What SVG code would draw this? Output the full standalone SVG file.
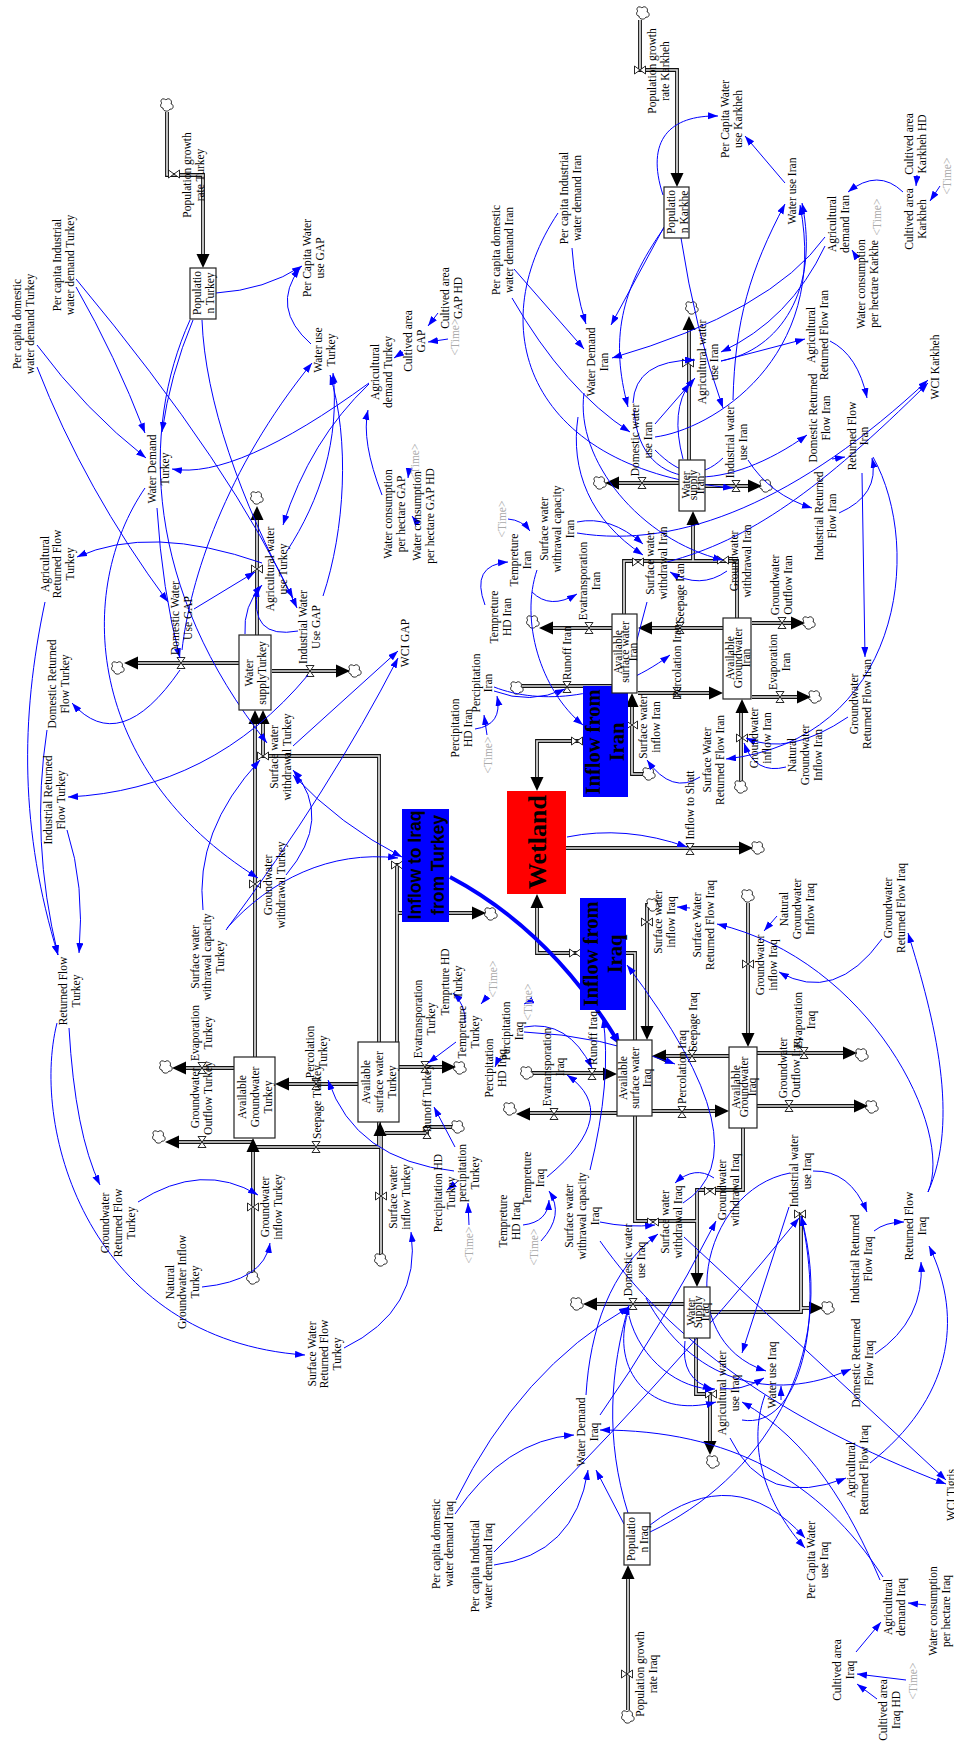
<svg xmlns="http://www.w3.org/2000/svg" width="954" height="1741" viewBox="0 0 954 1741">
<style>
text{font-family:"Liberation Serif","Times New Roman",serif;font-size:11.5px;text-anchor:middle;fill:#000}
.g{fill:#aaa}
.st{fill:#fff;stroke:#222;stroke-width:1.2}
.po{fill:none;stroke:#111;stroke-width:3.8}
.pi{fill:none;stroke:#ddd;stroke-width:1.7}
.c path{fill:none;stroke:#0000ff;stroke-width:1;marker-end:url(#b)}
path.n{marker-end:none!important}
path.dbl{marker-start:url(#bs)}
.cl{fill:#fff;stroke:#111;stroke-width:.9}
.v{fill:#fff;stroke:#111;stroke-width:.9}
.bx{font-family:"Liberation Sans",Arial,sans-serif;font-weight:bold;font-size:17.5px}
.bs{font-weight:bold;font-size:20.5px}
</style>
<defs>
<marker id="b" markerUnits="userSpaceOnUse" markerWidth="11" markerHeight="8" refX="10" refY="3.5" orient="auto"><path d="M0 0L10 3.5L0 7Z" fill="#0000ff"/></marker>
<marker id="bs" markerUnits="userSpaceOnUse" markerWidth="11" markerHeight="8" refX="10" refY="3.5" orient="auto-start-reverse"><path d="M0 0L10 3.5L0 7Z" fill="#0000ff"/></marker>
<marker id="B" markerUnits="userSpaceOnUse" markerWidth="15" markerHeight="12" refX="6" refY="5" orient="auto"><path d="M0 0L12 5L0 10Z" fill="#0000ff"/></marker>
<path id="hd" d="M0 0L-14 -6.5L-14 6.5Z" fill="#000"/>
<path id="cl" class="cl" d="M-3-6C-6-7-7-3-5-2C-7-1-7 3-4 3C-4 7 2 7 3 4C7 5 7-1 4-1C6-5 1-8-1-5C-2-6-3-6-3-6Z"/>
<path id="vh" class="v" d="M-4-5.5H4L-4 5.5H4Z"/>
<path id="vv" class="v" d="M-5.5-4V4L5.5-4V4Z"/>
<g id="pipes">
<path d="M167 112V175H203V258"/><path d="M257 635V515"/><path d="M239 663H130"/><path d="M272 671H345"/><path d="M263 720V756H379V1042"/><path d="M255 720V1057"/><path d="M234 1068H180"/><path d="M253 1142H172"/><path d="M358 1084H285"/><path d="M379 1122V1147H253"/><path d="M253 1278V1145"/><path d="M381 1260V1130"/><path d="M452 1127H427V1133H385"/><path d="M399 1067H447"/><path d="M397 1042V865H402"/><path d="M397 913H475"/>
<path d="M566 848H745"/><path d="M583 741H537V780"/><path d="M580 953H537V905"/><path d="M626 953H635V1040"/>
<path d="M640 20V70H677V175"/><path d="M689 460V325"/><path d="M679 483H615"/><path d="M705 486H750"/><path d="M693 524V561"/><path d="M624 614V561H737V618"/><path d="M612 628H550"/><path d="M522 686H612"/><path d="M723 628H650"/><path d="M638 693H712"/><path d="M752 623H795"/><path d="M752 697H800"/><path d="M741 781V710"/><path d="M649 774H632V705"/>
<path d="M648 905H647V1028"/><path d="M748 903V1035"/><path d="M729 1056H665"/><path d="M652 1111H718"/><path d="M532 1073H605"/><path d="M617 1113H528"/><path d="M757 1053H845"/><path d="M757 1106H855"/><path d="M635 1116V1221H697"/><path d="M743 1128V1190H697V1275"/><path d="M684 1304H595"/><path d="M709 1312H801V1212"/><path d="M801 1308H810"/><path d="M696 1338V1394H710V1443"/><path d="M628 1710V1575"/>
</g>
</defs>
<rect width="954" height="1741" fill="#fff"/>
<g id="flows">
<use href="#pipes" class="po"/><use href="#pipes" class="pi"/>
<g id="clouds">
<use href="#cl" x="167" y="105"/><use href="#cl" x="257" y="498"/><use href="#cl" x="118" y="668"/><use href="#cl" x="355" y="671"/><use href="#cl" x="166" y="1067"/><use href="#cl" x="159" y="1137"/><use href="#cl" x="253" y="1278"/><use href="#cl" x="381" y="1260"/><use href="#cl" x="458" y="1127"/><use href="#cl" x="460" y="1068"/><use href="#cl" x="491" y="914"/><use href="#cl" x="758" y="848"/><use href="#cl" x="643" y="13"/><use href="#cl" x="692" y="308"/><use href="#cl" x="600" y="483"/><use href="#cl" x="766" y="486"/><use href="#cl" x="533" y="622"/><use href="#cl" x="517" y="688"/><use href="#cl" x="809" y="623"/><use href="#cl" x="815" y="697"/><use href="#cl" x="741" y="787"/><use href="#cl" x="649" y="774"/><use href="#cl" x="653" y="905"/><use href="#cl" x="748" y="896"/><use href="#cl" x="527" y="1073"/><use href="#cl" x="510" y="1109"/><use href="#cl" x="862" y="1055"/><use href="#cl" x="872" y="1107"/><use href="#cl" x="577" y="1304"/><use href="#cl" x="828" y="1308"/><use href="#cl" x="713" y="1462"/><use href="#cl" x="628" y="1717"/>
</g>
<g id="heads">
<use href="#hd" transform="translate(203 268) rotate(90)"/><use href="#hd" transform="translate(257 506) rotate(-90)"/><use href="#hd" transform="translate(124 663) rotate(180)"/><use href="#hd" transform="translate(350 671)"/><use href="#hd" transform="translate(263 710) rotate(-90)"/><use href="#hd" transform="translate(255 710) rotate(-90)"/><use href="#hd" transform="translate(172 1068) rotate(180)"/><use href="#hd" transform="translate(165 1142) rotate(180)"/><use href="#hd" transform="translate(275 1084) rotate(180)"/><use href="#hd" transform="translate(253 1138) rotate(-90)"/><use href="#hd" transform="translate(380 1122) rotate(-90)"/><use href="#hd" transform="translate(456 1067)"/><use href="#hd" transform="translate(486 913)"/>
<use href="#hd" transform="translate(753 848)"/><use href="#hd" transform="translate(537 791) rotate(90)"/><use href="#hd" transform="translate(537 894) rotate(-90)"/>
<use href="#hd" transform="translate(677 187) rotate(90)"/><use href="#hd" transform="translate(689 316) rotate(-90)"/><use href="#hd" transform="translate(605 483) rotate(180)"/><use href="#hd" transform="translate(762 486)"/><use href="#hd" transform="translate(693 511) rotate(-90)"/><use href="#hd" transform="translate(539 628) rotate(180)"/><use href="#hd" transform="translate(638 628) rotate(180)"/><use href="#hd" transform="translate(723 693)"/><use href="#hd" transform="translate(805 623)"/><use href="#hd" transform="translate(811 697)"/><use href="#hd" transform="translate(742 699) rotate(-90)"/><use href="#hd" transform="translate(632 693) rotate(-90)"/>
<use href="#hd" transform="translate(647 1040) rotate(90)"/><use href="#hd" transform="translate(748 1047) rotate(90)"/><use href="#hd" transform="translate(652 1056) rotate(180)"/><use href="#hd" transform="translate(729 1111)"/><use href="#hd" transform="translate(617 1074)"/><use href="#hd" transform="translate(516 1114) rotate(180)"/><use href="#hd" transform="translate(857 1053)"/><use href="#hd" transform="translate(868 1106)"/><use href="#hd" transform="translate(697 1287) rotate(90)"/><use href="#hd" transform="translate(583 1304) rotate(180)"/><use href="#hd" transform="translate(823 1308)"/><use href="#hd" transform="translate(710 1455) rotate(90)"/><use href="#hd" transform="translate(628 1565) rotate(-90)"/>
</g>
<g id="valves">
<use href="#vv" x="174" y="174"/><use href="#vv" x="257" y="569"/><use href="#vv" x="263" y="756"/><use href="#vv" x="255" y="884"/><use href="#vv" x="253" y="1207"/><use href="#vv" x="381" y="1196"/><use href="#vv" x="397" y="865"/><use href="#vv" x="640" y="70"/><use href="#vv" x="688" y="363"/><use href="#vv" x="638" y="562"/><use href="#vv" x="723" y="560"/><use href="#vv" x="632" y="725"/><use href="#vv" x="742" y="738"/><use href="#vv" x="647" y="922"/><use href="#vv" x="748" y="964"/><use href="#vv" x="653" y="1222"/><use href="#vv" x="710" y="1191"/><use href="#vv" x="800" y="1214"/><use href="#vv" x="711" y="1394"/><use href="#vv" x="627" y="1674"/><use href="#vv" x="577" y="741"/><use href="#vv" x="575" y="953"/>
<use href="#vh" x="181" y="663"/><use href="#vh" x="310" y="671"/><use href="#vh" x="202" y="1068"/><use href="#vh" x="202" y="1142"/><use href="#vh" x="316" y="1084"/><use href="#vh" x="316" y="1147"/><use href="#vh" x="427" y="1133"/><use href="#vh" x="425" y="1067"/><use href="#vh" x="690" y="849"/><use href="#vh" x="642" y="483"/><use href="#vh" x="736" y="486"/><use href="#vh" x="589" y="628"/><use href="#vh" x="567" y="687"/><use href="#vh" x="680" y="628"/><use href="#vh" x="677" y="693"/><use href="#vh" x="782" y="623"/><use href="#vh" x="780" y="697"/><use href="#vh" x="692" y="1056"/><use href="#vh" x="682" y="1112"/><use href="#vh" x="592" y="1074"/><use href="#vh" x="554" y="1114"/><use href="#vh" x="804" y="1053"/><use href="#vh" x="789" y="1106"/><use href="#vh" x="633" y="1304"/>
</g>
</g>
<g id="connectors" class="c">
<path d="M216 293Q265 290 302 266"/><path d="M311 344Q270 308 300 268"/><path d="M438 313L428 326"/><path d="M448 339L428 342"/><path d="M403 352L394 358"/><path d="M76 287Q115 355 145 433"/><path d="M76 279Q235 470 297 608"/><path d="M202 320C205 400 240 500 293 598"/><path d="M37 345Q85 410 146 458"/><path d="M37 367Q85 490 168 602"/><path d="M193 320Q170 375 162 432"/><path d="M190 320C140 430 145 590 267 743"/><path d="M157 508Q162 590 180 658"/><path d="M145 488C75 590 85 770 258 878"/><path d="M194 609L255 572"/><path d="M182 650C190 580 225 470 312 363"/><path d="M245 634Q243 606 262 585"/><path d="M298 631Q248 640 258 587"/><path d="M287 551C320 500 340 440 333 373"/><path d="M323 596C345 530 350 440 330 375"/><path d="M369 383Q236 480 172 469"/><path d="M369 384Q310 440 283 525"/><path d="M382 495Q361 441 368 410"/><path d="M409 470L408 478"/><path d="M418 524L412 516"/><path d="M262 563Q150 524 77 557"/><path d="M180 670Q120 757 72 703"/><path d="M308 675Q212 790 68 797"/><path d="M45 602C20 720 20 830 58 955"/><path d="M47 730Q30 840 58 955"/><path d="M67 830Q85 885 79 953"/><path d="M293 746L398 651"/><path d="M226 930Q330 790 398 658"/><path d="M286 875Q334 818 293 770"/><path d="M203 910Q194 831 260 760"/><path d="M227 928C270 880 330 850 398 858"/><path class="dbl" d="M402 857Q340 825 293 775"/><path d="M69 1028Q75 1133 100 1185"/><path d="M57 1023C30 1130 90 1340 305 1355"/><path d="M344 1348Q422 1310 411 1232"/><path d="M138 1202Q202 1161 258 1195"/><path d="M202 1287Q264 1281 270 1243"/><path d="M454 1171Q355 1160 328 1080"/><path d="M455 1147L434 1107"/><path d="M457 1182L447 1190"/><path d="M469 1225L468 1203"/><path d="M456 1042L428 1063"/><path d="M465 1023Q466 1005 453 993"/>
<path d="M663 195C645 140 670 115 718 116"/><path d="M785 183L745 136"/><path d="M917 175L916 186"/><path d="M940 186L930 201"/><path d="M903 192Q878 168 848 192"/><path d="M857 258L852 250"/><path d="M572 248Q575 290 586 324"/><path d="M514 269L584 349"/><path d="M512 298Q565 390 630 432"/><path d="M558 213C480 330 530 470 733 488"/><path d="M664 227L611 325"/><path d="M664 228C620 290 610 340 628 407"/><path d="M681 238Q695 330 723 408"/><path d="M825 237Q771 312 612 358"/><path d="M825 246Q790 320 721 352"/><path d="M721 361L805 339"/><path d="M721 361C780 350 820 290 802 203"/><path d="M655 437C710 430 830 360 800 205"/><path d="M733 400C735 320 750 270 785 204"/><path d="M655 424L695 378"/><path d="M633 403Q635 360 695 360"/><path d="M683 459Q670 410 690 383"/><path d="M634 410C640 500 730 490 807 435"/><path class="n" d="M655 450C680 475 700 480 723 458"/><path d="M748 460Q770 495 812 508"/><path d="M832 459L845 457"/><path d="M839 513Q880 495 872 458"/><path d="M830 341Q858 355 867 398"/><path d="M862 473L865 657"/><path d="M873 457C925 550 900 740 726 759"/><path d="M848 717Q789 757 746 738"/><path d="M786 767Q755 775 744 743"/><path d="M700 777Q672 795 647 760"/><path d="M577 533C680 550 800 500 928 380"/><path d="M667 562C750 540 820 490 928 383"/><path d="M577 522Q610 515 643 544"/><path d="M727 571Q700 590 670 572"/><path d="M647 602L625 685"/><path d="M485 605Q470 565 508 562"/><path d="M508 519Q522 520 530 531"/><path d="M532 592Q550 610 577 594"/><path d="M537 570C520 620 540 690 583 725"/><path d="M494 691Q530 705 565 689"/><path d="M494 687C540 705 610 700 670 655"/><path d="M475 729Q503 725 497 696"/><path d="M487 735L484 715"/><path d="M584 393C575 460 640 540 723 560"/><path d="M578 417C570 470 590 520 643 555"/>
<path d="M567 837Q625 825 687 847"/><path d="M777 916L764 931"/><path d="M690 908L677 907"/><path d="M882 939Q835 1004 779 972"/><path d="M928 1192C955 1130 870 960 717 924"/><path d="M928 1192C960 1120 935 1020 908 933"/><path d="M547 1177Q623 1114 567 1075"/><path d="M683 1203Q767 1150 627 965"/><path d="M714 1178Q695 1165 675 1183"/><path d="M487 997L481 1004"/><path d="M533 1000L524 1004"/><path d="M524 1027Q568 1019 592 1068"/><path d="M524 1032Q600 1035 675 1064"/><path d="M498 1060L495 1067"/><path d="M813 1171Q850 1170 867 1212"/><path d="M874 1231Q885 1222 904 1222"/><path d="M875 1354Q925 1320 921 1262"/><path d="M870 1463C950 1400 965 1320 929 1246"/><path d="M646 1298C690 1380 770 1405 851 1369"/><path d="M730 1438Q765 1510 846 1478"/><path d="M765 1395C745 1450 770 1510 805 1548"/><path d="M650 1525Q735 1460 805 1538"/><path d="M650 1532C760 1480 840 1360 801 1216"/><path d="M624 1524L596 1470"/><path d="M628 1513C605 1440 610 1370 629 1305"/><path d="M456 1500Q520 1370 629 1307"/><path d="M455 1514Q505 1440 574 1435"/><path d="M494 1565Q575 1555 588 1470"/><path d="M494 1552Q650 1400 799 1218"/><path d="M586 1395C590 1330 610 1270 658 1234"/><path d="M600 1415Q660 1330 716 1221"/><path d="M628 1312C610 1370 650 1420 716 1402"/><path d="M629 1316C640 1360 680 1390 715 1389"/><path d="M685 1341Q680 1380 713 1389"/><path d="M720 1388Q740 1392 764 1378"/><path d="M790 1173C700 1190 670 1340 766 1371"/><path d="M789 1207L742 1353"/><path d="M742 1420C800 1430 825 1320 801 1216"/><path d="M880 1580C850 1510 810 1440 742 1402"/><path d="M883 1577C820 1480 730 1430 600 1430"/><path d="M781 1400L781 1386"/><path d="M856 1652L881 1622"/><path d="M906 1680L857 1674"/><path d="M877 1699L857 1684"/><path d="M926 1605L908 1603"/><path d="M600 1222Q628 1228 655 1225"/><path d="M600 1241C670 1340 780 1420 946 1484"/><path d="M684 1237L946 1480"/><path d="M523 1225Q548 1222 549 1200"/><path d="M541 1241Q565 1215 549 1191"/>
<path d="M450 877Q550 930 617 1040" style="stroke-width:4;marker-end:url(#B)"/>
</g>
<g id="stocks">
<g id="population-turkey"><rect class="st" x="190" y="268" width="26" height="51"/><text transform="translate(200.5 293) rotate(-90)"><tspan x="0">Populatio</tspan><tspan x="0" dy="13.3">n Turkey</tspan></text></g>
<g id="water-supply-turkey"><rect class="st" x="239" y="635" width="32" height="75"/><text transform="translate(252.5 673) rotate(-90)"><tspan x="0">Water</tspan><tspan x="0" dy="13.3">supplyTurkey</tspan></text></g>
<g id="available-groundwater-turkey"><rect class="st" x="234" y="1057" width="41" height="81"/><text transform="translate(245.5 1097) rotate(-90)"><tspan x="0">Available</tspan><tspan x="0" dy="13">Groundwater</tspan><tspan x="0" dy="13">Turkey</tspan></text></g>
<g id="available-surface-turkey"><rect class="st" x="358" y="1042" width="41" height="80"/><text transform="translate(369.5 1082) rotate(-90)"><tspan x="0">Available</tspan><tspan x="0" dy="13">surface water</tspan><tspan x="0" dy="13">Turkey</tspan></text></g>
<g id="inflow-to-iraq"><rect x="402" y="809" width="47" height="113" fill="#0000ff"/><text class="bx" transform="translate(421 865) rotate(-90)"><tspan x="0">Inflow to Iraq</tspan><tspan x="0" dy="23">from Turkey</tspan></text></g>
<g id="wetland"><rect x="507" y="791" width="59" height="103" fill="#ff0000"/><text transform="translate(546 842) rotate(-90)" style="font-weight:bold;font-size:26px">Wetland</text></g>
<g id="inflow-from-iran"><rect x="583" y="686" width="45" height="111" fill="#0000ff"/><text class="bs" transform="translate(600 742) rotate(-90)"><tspan x="0">Inflow from</tspan><tspan x="0" dy="24">Iran</tspan></text></g>
<g id="inflow-from-iraq"><rect x="580" y="898" width="46" height="112" fill="#0000ff"/><text class="bs" transform="translate(598 954) rotate(-90)"><tspan x="0">Inflow from</tspan><tspan x="0" dy="24">Iraq</tspan></text></g>
<g id="population-karkhe"><rect class="st" x="664" y="187" width="25" height="51"/><text transform="translate(674.5 212) rotate(-90)"><tspan x="0">Populatio</tspan><tspan x="0" dy="13.3">n Karkhe</tspan></text></g>
<g id="water-supply-iran"><rect class="st" x="679" y="460" width="26" height="51"/><text transform="translate(689.5 485) rotate(-90)"><tspan x="0">Water</tspan><tspan x="0" dy="7">supply</tspan><tspan x="0" dy="7">Iran</tspan></text></g>
<g id="available-surface-iran"><rect class="st" x="612" y="614" width="25" height="79"/><text transform="translate(621.5 652) rotate(-90)"><tspan x="0">Available</tspan><tspan x="0" dy="7.5">surface water</tspan><tspan x="0" dy="7.5">Iran</tspan></text></g>
<g id="available-groundwater-iran"><rect class="st" x="723" y="618" width="28" height="81"/><text transform="translate(733.5 658) rotate(-90)"><tspan x="0">Available</tspan><tspan x="0" dy="8">Groundwater</tspan><tspan x="0" dy="8">Iran</tspan></text></g>
<g id="available-surface-iraq"><rect class="st" x="617" y="1040" width="35" height="76"/><text transform="translate(626.5 1078) rotate(-90)"><tspan x="0">Available</tspan><tspan x="0" dy="12">surface water</tspan><tspan x="0" dy="12">Iraq</tspan></text></g>
<g id="available-groundwater-iraq"><rect class="st" x="729" y="1047" width="28" height="81"/><text transform="translate(739.5 1087) rotate(-90)"><tspan x="0">Available</tspan><tspan x="0" dy="8">Groundwater</tspan><tspan x="0" dy="8">Iraq</tspan></text></g>
<g id="water-supply-iraq"><rect class="st" x="684" y="1287" width="26" height="51"/><text transform="translate(694.5 1312) rotate(-90)"><tspan x="0">Water</tspan><tspan x="0" dy="7">Supply</tspan><tspan x="0" dy="7">Iraq</tspan></text></g>
<g id="population-iraq"><rect class="st" x="624" y="1513" width="26" height="52"/><text transform="translate(634.5 1539) rotate(-90)"><tspan x="0">Populatio</tspan><tspan x="0" dy="13.3">n Iraq</tspan></text></g>
</g>
<g id="connectors-over" class="c"><path d="M590 1170Q612 1080 603 1018"/></g>
<g id="variables">
<text transform="translate(190.5 175) rotate(-90)"><tspan x="0">Population growth</tspan><tspan x="0" dy="13.3">rate Turkey</tspan></text>
<text transform="translate(60.5 265) rotate(-90)"><tspan x="0">Per capita Industrial</tspan><tspan x="0" dy="13.3">water demand Turkey</tspan></text>
<text transform="translate(20.5 324) rotate(-90)"><tspan x="0">Per capita domestic</tspan><tspan x="0" dy="13.3">water demand Turkey</tspan></text>
<text transform="translate(310.5 258) rotate(-90)"><tspan x="0">Per Capita Water</tspan><tspan x="0" dy="13.3">use GAP</tspan></text>
<text transform="translate(321.5 350) rotate(-90)"><tspan x="0">Water use</tspan><tspan x="0" dy="13.3">Turkey</tspan></text>
<text transform="translate(411.5 341) rotate(-90)"><tspan x="0">Cultived area</tspan><tspan x="0" dy="13.3">GAP</tspan></text>
<text transform="translate(448.5 298) rotate(-90)"><tspan x="0">Cultived area</tspan><tspan x="0" dy="13.3">GAP HD</tspan></text>
<text class="g" transform="translate(458.5 337) rotate(-90)">&lt;Time&gt;</text>
<text transform="translate(378.5 372) rotate(-90)"><tspan x="0">Agricultural</tspan><tspan x="0" dy="13.3">demand Turkey</tspan></text>
<text transform="translate(155.5 469) rotate(-90)"><tspan x="0">Water Demand</tspan><tspan x="0" dy="13.3">Turkey</tspan></text>
<text transform="translate(391.5 514) rotate(-90)"><tspan x="0">Water consumption</tspan><tspan x="0" dy="13.3">per hectare GAP</tspan></text>
<text transform="translate(420.5 516) rotate(-90)"><tspan x="0">Water consumption</tspan><tspan x="0" dy="13.3">per hectare GAP HD</tspan></text>
<text class="g" transform="translate(418.5 462) rotate(-90)">&lt;Time&gt;</text>
<text transform="translate(273.5 569) rotate(-90)"><tspan x="0">Agricultural water</tspan><tspan x="0" dy="13.3">use Turkey</tspan></text>
<text transform="translate(306.5 627) rotate(-90)"><tspan x="0">Industrial Water</tspan><tspan x="0" dy="13.3">Use GAP</tspan></text>
<text transform="translate(178.5 618) rotate(-90)"><tspan x="0">Domestic Water</tspan><tspan x="0" dy="13.3">Use GAP</tspan></text>
<text transform="translate(48.5 564) rotate(-90)"><tspan x="0">Agricultural</tspan><tspan x="0" dy="12.5">Returned Flow</tspan><tspan x="0" dy="12.5">Turkey</tspan></text>
<text transform="translate(55.5 684) rotate(-90)"><tspan x="0">Domestic Returned</tspan><tspan x="0" dy="13.3">Flow Turkey</tspan></text>
<text transform="translate(51.5 800) rotate(-90)"><tspan x="0">Industrial Returned</tspan><tspan x="0" dy="13.3">Flow Turkey</tspan></text>
<text transform="translate(277.5 757) rotate(-90)"><tspan x="0">Surface water</tspan><tspan x="0" dy="13.3">withdrawal Turkey</tspan></text>
<text transform="translate(408.5 643) rotate(-90)">WCI GAP</text>
<text transform="translate(271.5 885) rotate(-90)"><tspan x="0">Groundwater</tspan><tspan x="0" dy="13.3">withdrawal Turkey</tspan></text>
<text transform="translate(198.5 957) rotate(-90)"><tspan x="0">Surface water</tspan><tspan x="0" dy="12.5">withrawal capacity</tspan><tspan x="0" dy="12.5">Turkey</tspan></text>
<text transform="translate(198.5 1033) rotate(-90)"><tspan x="0">Evaporation</tspan><tspan x="0" dy="13.3">Turkey</tspan></text>
<text transform="translate(198.5 1098) rotate(-90)"><tspan x="0">Groundwater</tspan><tspan x="0" dy="13.3">Outflow Turkey</tspan></text>
<text transform="translate(313.5 1052) rotate(-90)"><tspan x="0">Percolation</tspan><tspan x="0" dy="13.3">Turkey</tspan></text>
<text transform="translate(320.5 1102) rotate(-90)">Seepage Turkey</text>
<text transform="translate(421.5 1019) rotate(-90)"><tspan x="0">Evatransporation</tspan><tspan x="0" dy="13.3">Turkey</tspan></text>
<text transform="translate(448.5 982) rotate(-90)"><tspan x="0">Temprture HD</tspan><tspan x="0" dy="13.3">Turkey</tspan></text>
<text transform="translate(465.5 1032) rotate(-90)"><tspan x="0">Tempreture</tspan><tspan x="0" dy="13.3">Turkey</tspan></text>
<text transform="translate(430.5 1098) rotate(-90)">Runoff Turkey</text>
<text transform="translate(465.5 1173) rotate(-90)"><tspan x="0">percipitation</tspan><tspan x="0" dy="13.3">Turkey</tspan></text>
<text transform="translate(441.5 1193) rotate(-90)"><tspan x="0">Percipitation HD</tspan><tspan x="0" dy="13.3">Turkey</tspan></text>
<text class="g" transform="translate(472.5 1245) rotate(-90)">&lt;Time&gt;</text>
<text transform="translate(396.5 1197) rotate(-90)"><tspan x="0">Surface water</tspan><tspan x="0" dy="13.3">inflow Turkey</tspan></text>
<text transform="translate(268.5 1207) rotate(-90)"><tspan x="0">Groundwater</tspan><tspan x="0" dy="13.3">inflow Turkey</tspan></text>
<text transform="translate(108.5 1223) rotate(-90)"><tspan x="0">Groundwater</tspan><tspan x="0" dy="13">Returned Flow</tspan><tspan x="0" dy="13">Turkey</tspan></text>
<text transform="translate(173.5 1282) rotate(-90)"><tspan x="0">Natural</tspan><tspan x="0" dy="12.7">Groundwater Inflow</tspan><tspan x="0" dy="12.7">Turkey</tspan></text>
<text transform="translate(66.5 991) rotate(-90)"><tspan x="0">Returned Flow</tspan><tspan x="0" dy="13.3">Turkey</tspan></text>
<text transform="translate(315.5 1354) rotate(-90)"><tspan x="0">Surface Water</tspan><tspan x="0" dy="12.7">Returned Flow</tspan><tspan x="0" dy="12.7">Turkey</tspan></text>

<text transform="translate(655.5 71) rotate(-90)"><tspan x="0">Population growth</tspan><tspan x="0" dy="13.3">rate Karkheh</tspan></text>
<text transform="translate(728.5 119) rotate(-90)"><tspan x="0">Per Capita Water</tspan><tspan x="0" dy="13.3">use Karkheh</tspan></text>
<text transform="translate(567.5 198) rotate(-90)"><tspan x="0">Per capita Industrial</tspan><tspan x="0" dy="13.3">water demand Iran</tspan></text>
<text transform="translate(499.5 250) rotate(-90)"><tspan x="0">Per capita domestic</tspan><tspan x="0" dy="13.3">water demand Iran</tspan></text>
<text transform="translate(594.5 362) rotate(-90)"><tspan x="0">Water Demand</tspan><tspan x="0" dy="13.3">Iran</tspan></text>
<text transform="translate(795.5 191) rotate(-90)">Water use Iran</text>
<text transform="translate(835.5 224) rotate(-90)"><tspan x="0">Agricultural</tspan><tspan x="0" dy="13">demand Iran</tspan></text>
<text class="g" transform="translate(880.5 217) rotate(-90)">&lt;Time&gt;</text>
<text transform="translate(864.5 284) rotate(-90)"><tspan x="0">Water consumption</tspan><tspan x="0" dy="13.3">per hectare Karkhe</tspan></text>
<text transform="translate(912.5 144) rotate(-90)"><tspan x="0">Cultived area</tspan><tspan x="0" dy="13">Karkheh HD</tspan></text>
<text transform="translate(912.5 219) rotate(-90)"><tspan x="0">Cultived area</tspan><tspan x="0" dy="13">Karkheh</tspan></text>
<text class="g" transform="translate(950.5 176) rotate(-90)">&lt;Time&gt;</text>
<text transform="translate(938.5 367) rotate(-90)">WCI Karkheh</text>
<text transform="translate(814.5 335) rotate(-90)"><tspan x="0">Agricultural</tspan><tspan x="0" dy="13">Returned Flow Iran</tspan></text>
<text transform="translate(705.5 362) rotate(-90)"><tspan x="0">Agricultural water</tspan><tspan x="0" dy="12.5">use Iran</tspan></text>
<text transform="translate(638.5 440) rotate(-90)"><tspan x="0">Domestic water</tspan><tspan x="0" dy="13">use Iran</tspan></text>
<text transform="translate(733.5 442) rotate(-90)"><tspan x="0">Industrial water</tspan><tspan x="0" dy="13">use Iran</tspan></text>
<text transform="translate(816.5 418) rotate(-90)"><tspan x="0">Domestic Returned</tspan><tspan x="0" dy="13">Flow Iran</tspan></text>
<text transform="translate(855.5 436) rotate(-90)"><tspan x="0">Returned Flow</tspan><tspan x="0" dy="12.5">Iran</tspan></text>
<text transform="translate(822.5 516) rotate(-90)"><tspan x="0">Industrial Returned</tspan><tspan x="0" dy="13.3">Flow Iran</tspan></text>
<text transform="translate(547.5 529) rotate(-90)"><tspan x="0">Surface water</tspan><tspan x="0" dy="13">withrawal capacity</tspan><tspan x="0" dy="13">Iran</tspan></text>
<text transform="translate(517.5 560) rotate(-90)"><tspan x="0">Tempreture</tspan><tspan x="0" dy="13">Iran</tspan></text>
<text transform="translate(586.5 581) rotate(-90)"><tspan x="0">Evatransporation</tspan><tspan x="0" dy="13">Iran</tspan></text>
<text transform="translate(497.5 617) rotate(-90)"><tspan x="0">Tempreture</tspan><tspan x="0" dy="13">HD Iran</tspan></text>
<text class="g" transform="translate(505.5 519) rotate(-90)">&lt;Time&gt;</text>
<text transform="translate(570.5 653) rotate(-90)">Runoff Iran</text>
<text transform="translate(479.5 683) rotate(-90)"><tspan x="0">Percipitation</tspan><tspan x="0" dy="12.5">Iran</tspan></text>
<text transform="translate(458.5 728) rotate(-90)"><tspan x="0">Percipitation</tspan><tspan x="0" dy="13">HD Iran</tspan></text>
<text class="g" transform="translate(491.5 755) rotate(-90)">&lt;Time&gt;</text>
<text transform="translate(653.5 563) rotate(-90)"><tspan x="0">Surface water</tspan><tspan x="0" dy="13">withdrawal Iran</tspan></text>
<text transform="translate(737.5 561) rotate(-90)"><tspan x="0">Groundwater</tspan><tspan x="0" dy="13">withdrawal Iran</tspan></text>
<text transform="translate(683.5 593) rotate(-90)">Seepage Iran</text>
<text transform="translate(680.5 661) rotate(-90)">Percolation Iran</text>
<text transform="translate(778.5 585) rotate(-90)"><tspan x="0">Groundwater</tspan><tspan x="0" dy="13">Outflow Iran</tspan></text>
<text transform="translate(776.5 662) rotate(-90)"><tspan x="0">Evaporation</tspan><tspan x="0" dy="13">Iran</tspan></text>
<text transform="translate(646.5 727) rotate(-90)"><tspan x="0">Surface water</tspan><tspan x="0" dy="13">inflow Iran</tspan></text>
<text transform="translate(757.5 738) rotate(-90)"><tspan x="0">Groundwater</tspan><tspan x="0" dy="13">inflow Iran</tspan></text>
<text transform="translate(795.5 755) rotate(-90)"><tspan x="0">Natural</tspan><tspan x="0" dy="13">Groundwater</tspan><tspan x="0" dy="13">Inflow Iran</tspan></text>
<text transform="translate(857.5 704) rotate(-90)"><tspan x="0">Groundwater</tspan><tspan x="0" dy="13">Returned Flow Iran</tspan></text>
<text transform="translate(710.5 760) rotate(-90)"><tspan x="0">Surface Water</tspan><tspan x="0" dy="13">Returned Flow Iran</tspan></text>
<text transform="translate(693.5 805) rotate(-90)">Inflow to Shatt</text>

<text transform="translate(661.5 922) rotate(-90)"><tspan x="0">Surface water</tspan><tspan x="0" dy="13.3">inflow Iraq</tspan></text>
<text transform="translate(700.5 925) rotate(-90)"><tspan x="0">Surface Water</tspan><tspan x="0" dy="13.3">Returned Flow Iraq</tspan></text>
<text transform="translate(787.5 909) rotate(-90)"><tspan x="0">Natural</tspan><tspan x="0" dy="13.3">Groundwater</tspan><tspan x="0" dy="13.3">Inflow Iraq</tspan></text>
<text transform="translate(891.5 908) rotate(-90)"><tspan x="0">Groundwater</tspan><tspan x="0" dy="13.3">Returned Flow Iraq</tspan></text>
<text transform="translate(763.5 965) rotate(-90)"><tspan x="0">Groundwater</tspan><tspan x="0" dy="13.3">inflow Iraq</tspan></text>
<text transform="translate(696.5 1022) rotate(-90)">Seepage Iraq</text>
<text transform="translate(801.5 1020) rotate(-90)"><tspan x="0">Evaporation</tspan><tspan x="0" dy="13.3">Iraq</tspan></text>
<text transform="translate(685.5 1067) rotate(-90)">Percolation Iraq</text>
<text transform="translate(596.5 1038) rotate(-90)">Runoff Iraq</text>
<text transform="translate(509.5 1031) rotate(-90)"><tspan x="0">Percipitation</tspan><tspan x="0" dy="13">Iraq</tspan></text>
<text class="g" transform="translate(531.5 1002) rotate(-90)">&lt;Time&gt;</text>
<text class="g" transform="translate(496.5 979) rotate(-90)">&lt;Time&gt;</text>
<text transform="translate(492.5 1068) rotate(-90)"><tspan x="0">Percipitation</tspan><tspan x="0" dy="13">HD Iraq</tspan></text>
<text transform="translate(550.5 1067) rotate(-90)"><tspan x="0">Evatransporation</tspan><tspan x="0" dy="13.3">Iraq</tspan></text>
<text transform="translate(786.5 1068) rotate(-90)"><tspan x="0">Groundwater</tspan><tspan x="0" dy="13">Outflow Iraq</tspan></text>
<text transform="translate(797.5 1171) rotate(-90)"><tspan x="0">Industrial water</tspan><tspan x="0" dy="13">use Iraq</tspan></text>
<text transform="translate(725.5 1190) rotate(-90)"><tspan x="0">Groundwater</tspan><tspan x="0" dy="13">withdrawal Iraq</tspan></text>
<text transform="translate(668.5 1222) rotate(-90)"><tspan x="0">Surface water</tspan><tspan x="0" dy="13.3">withdrawal Iraq</tspan></text>
<text transform="translate(530.5 1178) rotate(-90)"><tspan x="0">Tempreture</tspan><tspan x="0" dy="13.3">Iraq</tspan></text>
<text transform="translate(572.5 1216) rotate(-90)"><tspan x="0">Surface water</tspan><tspan x="0" dy="13">withrawal capacity</tspan><tspan x="0" dy="13">Iraq</tspan></text>
<text transform="translate(506.5 1221) rotate(-90)"><tspan x="0">Tempreture</tspan><tspan x="0" dy="13.3">HD Iraq</tspan></text>
<text class="g" transform="translate(537.5 1247) rotate(-90)">&lt;Time&gt;</text>
<text transform="translate(631.5 1260) rotate(-90)"><tspan x="0">Domestic water</tspan><tspan x="0" dy="13">use Iraq</tspan></text>
<text transform="translate(776 1375) rotate(-90)">Water use Iraq</text>
<text transform="translate(725.5 1393) rotate(-90)"><tspan x="0">Agricultural water</tspan><tspan x="0" dy="13.3">use Iraq</tspan></text>
<text transform="translate(584.5 1432) rotate(-90)"><tspan x="0">Water Demand</tspan><tspan x="0" dy="13">Iraq</tspan></text>
<text transform="translate(859.5 1363) rotate(-90)"><tspan x="0">Domestic Returned</tspan><tspan x="0" dy="13.3">Flow Iraq</tspan></text>
<text transform="translate(858.5 1259) rotate(-90)"><tspan x="0">Industrial Returned</tspan><tspan x="0" dy="13.3">Flow Iraq</tspan></text>
<text transform="translate(912.5 1226) rotate(-90)"><tspan x="0">Returned Flow</tspan><tspan x="0" dy="13.3">Iraq</tspan></text>
<text transform="translate(854.5 1470) rotate(-90)"><tspan x="0">Agricultural</tspan><tspan x="0" dy="13">Returned Flow Iraq</tspan></text>
<text transform="translate(955 1495) rotate(-90)">WCI Tigris</text>
<text transform="translate(439.5 1544) rotate(-90)"><tspan x="0">Per capita domestic</tspan><tspan x="0" dy="13.5">water demand Iraq</tspan></text>
<text transform="translate(478.5 1566) rotate(-90)"><tspan x="0">Per capita Industrial</tspan><tspan x="0" dy="13">water demand Iraq</tspan></text>
<text transform="translate(814.5 1560) rotate(-90)"><tspan x="0">Per Capita Water</tspan><tspan x="0" dy="13.3">use Iraq</tspan></text>
<text transform="translate(891.5 1607) rotate(-90)"><tspan x="0">Agricultural</tspan><tspan x="0" dy="13">demand Iraq</tspan></text>
<text transform="translate(936.5 1611) rotate(-90)"><tspan x="0">Water consumption</tspan><tspan x="0" dy="13.3">per hectare Iraq</tspan></text>
<text transform="translate(840.5 1670) rotate(-90)"><tspan x="0">Cultived area</tspan><tspan x="0" dy="13.3">Iraq</tspan></text>
<text transform="translate(886.5 1710) rotate(-90)"><tspan x="0">Cultived area</tspan><tspan x="0" dy="13.3">Iraq HD</tspan></text>
<text class="g" transform="translate(916.5 1681) rotate(-90)">&lt;Time&gt;</text>
<text transform="translate(643.5 1674) rotate(-90)"><tspan x="0">Population growth</tspan><tspan x="0" dy="13.3">rate Iraq</tspan></text>
</g>
</svg>
